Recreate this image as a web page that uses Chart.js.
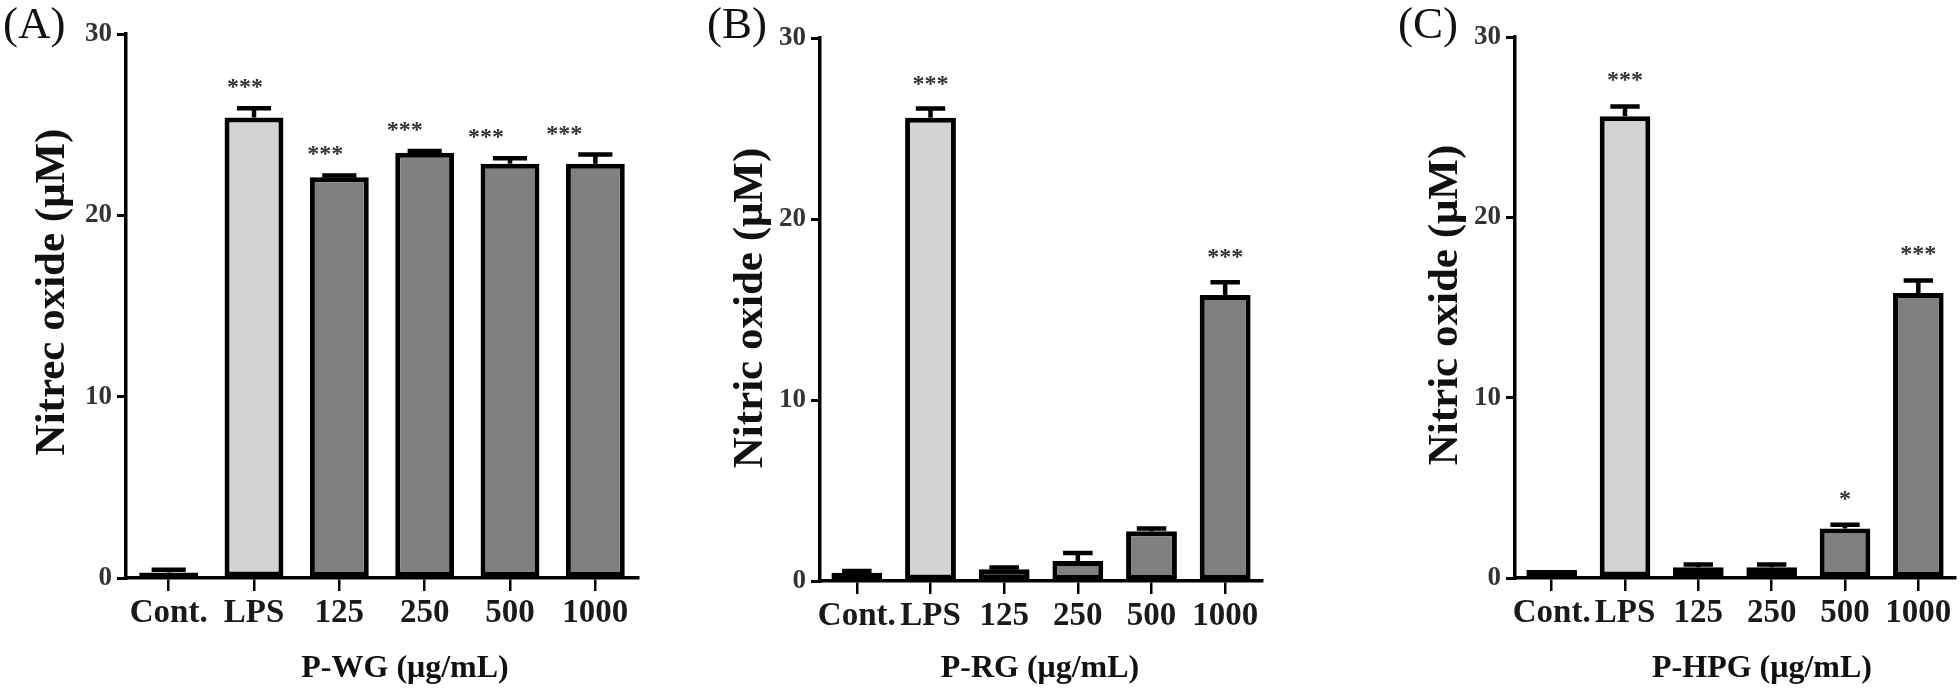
<!DOCTYPE html>
<html>
<head>
<meta charset="utf-8">
<script src="https://cdn.jsdelivr.net/npm/chart.js@4/dist/chart.umd.min.js"></script>
<style>
  html, body { margin: 0; padding: 0; background: #fff; }
  #wrap { position: relative; width: 1960px; height: 698px; }
  #wrap canvas { position: absolute; left: 0; top: 0; }
</style>
</head>
<body>
<div id="wrap">
  <canvas id="chartA" width="1960" height="698"></canvas>
  <canvas id="chartB" width="1960" height="698"></canvas>
  <canvas id="chartC" width="1960" height="698"></canvas>
</div>
<script>
// data
const categories = ['Cont.', 'LPS', '125', '250', '500', '1000'];
const yTicks = [0, 10, 20, 30];

const wgValues = [0.3, 25.4, 22.1, 23.45, 22.85, 22.85];
const wgErrors = [0.15, 0.5, 0.1, 0.1, 0.3, 0.5];
const wgStars = ['', '***', '***', '***', '***', '***'];

const rgValues = [0.45, 25.6, 0.65, 1.1, 2.75, 15.8];
const rgErrors = [0.1, 0.5, 0.1, 0.45, 0.15, 0.7];
const rgStars = ['', '***', '', '', '', '***'];

const hpgValues = [0.45, 25.6, 0.6, 0.6, 2.75, 15.8];
const hpgErrors = [0, 0.55, 0.15, 0.15, 0.2, 0.7];
const hpgStars = ['', '***', '', '', '*', '***'];

const SERIF = "'Liberation Serif', 'Times New Roman', serif";
const LIGHT = '#d3d3d3';
const DARK = '#808080';
const Y_W = 70;
const X_H = 80;

// draws error bars, significance stars, panel letter and axis titles
function decor(cfg) {
    return {
        id: 'decor',
        afterDatasetsDraw(chart) {
            const ctx = chart.ctx;
            const y = chart.scales.y;
            const bars = chart.getDatasetMeta(0).data;
            ctx.save();
            ctx.strokeStyle = '#000';
            ctx.lineWidth = 4.5;
            bars.forEach((bar, i) => {
                const v = cfg.values[i];
                const e = cfg.errors[i];
                const capY = y.getPixelForValue(v + e);
                if (e > 0) {
                    const half = bar.width * 0.29;
                    ctx.beginPath();
                    ctx.moveTo(bar.x, y.getPixelForValue(v));
                    ctx.lineTo(bar.x, capY);
                    ctx.moveTo(bar.x - half, capY);
                    ctx.lineTo(bar.x + half, capY);
                    ctx.stroke();
                }
                if (cfg.stars[i]) {
                    ctx.fillStyle = '#333';
                    ctx.font = 'bold 24px ' + SERIF;
                    ctx.textAlign = 'center';
                    ctx.textBaseline = 'alphabetic';
                    ctx.fillText(cfg.stars[i], bar.x + cfg.starShift[i], capY - cfg.starGap + 11);
                }
            });

            ctx.fillStyle = '#111';
            ctx.font = '45px ' + SERIF;
            ctx.textAlign = 'left';
            ctx.textBaseline = 'alphabetic';
            ctx.fillText(cfg.letter, cfg.letterX, 38);

            ctx.font = 'bold 32px ' + SERIF;
            ctx.textAlign = 'center';
            ctx.fillText(cfg.xTitle, cfg.xTitleX, 677);

            ctx.translate(cfg.yTitleX, cfg.yTitleY);
            ctx.rotate(-Math.PI / 2);
            ctx.font = 'bold 43px ' + SERIF;
            ctx.textBaseline = 'middle';
            ctx.fillText(cfg.yTitle, 0, 0);
            ctx.restore();
        }
    };
}

function makePanel(id, cfg) {
    return new Chart(document.getElementById(id), {
        type: 'bar',
        data: {
            labels: categories,
            datasets: [{
                data: cfg.values,
                backgroundColor: cfg.fills,
                borderColor: '#000',
                borderWidth: 5,
                borderSkipped: false,
                barPercentage: 0.69,
                categoryPercentage: 1
            }]
        },
        options: {
            responsive: false,
            animation: false,
            events: [],
            layout: {
                padding: {
                    left: cfg.area.left - Y_W,
                    right: 1960 - cfg.area.right,
                    top: cfg.area.top,
                    bottom: 698 - cfg.area.bottom - X_H
                }
            },
            plugins: { legend: { display: false }, tooltip: { enabled: false } },
            scales: {
                x: {
                    grid: { offset: false, drawOnChartArea: false, color: '#000', lineWidth: 2.5, tickLength: 13 },
                    border: { color: '#000', width: 3.5 },
                    ticks: {
                        color: '#1a1a1a',
                        font: { family: SERIF, size: 33, weight: 'bold' },
                        padding: 3,
                        maxRotation: 0,
                        autoSkip: false
                    },
                    afterFit: s => { s.height = X_H; }
                },
                y: {
                    min: 0,
                    max: 30,
                    afterBuildTicks: s => { s.ticks = yTicks.map(v => ({ value: v })); },
                    grid: { drawOnChartArea: false, color: '#000', lineWidth: 3, tickLength: 9 },
                    border: { color: '#000', width: 3.5 },
                    ticks: {
                        color: '#333',
                        font: { family: SERIF, size: 27, weight: 'bold' },
                        padding: 5
                    },
                    afterFit: s => { s.width = Y_W; }
                }
            }
        },
        plugins: [decor(cfg)]
    });
}

makePanel('chartA', {
    values: wgValues, errors: wgErrors, stars: wgStars,
    fills: [LIGHT, LIGHT, DARK, DARK, DARK, DARK],
    area: { left: 126, right: 638, top: 34, bottom: 578 },
    starShift: [0, -9, -14, -20, -24, -31], starGap: 25,
    letter: '(A)', letterX: 3,
    yTitle: 'Nitrec oxide (\u03bcM)', yTitleX: 53, yTitleY: 292,
    xTitle: 'P-WG (\u03bcg/mL)', xTitleX: 405
});

makePanel('chartB', {
    values: rgValues, errors: rgErrors, stars: rgStars,
    fills: [DARK, LIGHT, DARK, DARK, DARK, DARK],
    area: { left: 820, right: 1262, top: 38, bottom: 581 },
    starShift: [0, 0, 0, 0, 0, 0], starGap: 29,
    letter: '(B)', letterX: 707,
    yTitle: 'Nitric oxide (\u03bcM)', yTitleX: 751, yTitleY: 308,
    xTitle: 'P-RG (\u03bcg/mL)', xTitleX: 1040
});

makePanel('chartC', {
    values: hpgValues, errors: hpgErrors, stars: hpgStars,
    fills: [LIGHT, LIGHT, DARK, DARK, DARK, DARK],
    area: { left: 1515, right: 1955, top: 37, bottom: 578 },
    starShift: [0, 0, 0, 0, 0, 0], starGap: 30,
    letter: '(C)', letterX: 1398,
    yTitle: 'Nitric oxide (\u03bcM)', yTitleX: 1446, yTitleY: 305,
    xTitle: 'P-HPG (\u03bcg/mL)', xTitleX: 1762
});
</script>
</body>
</html>
